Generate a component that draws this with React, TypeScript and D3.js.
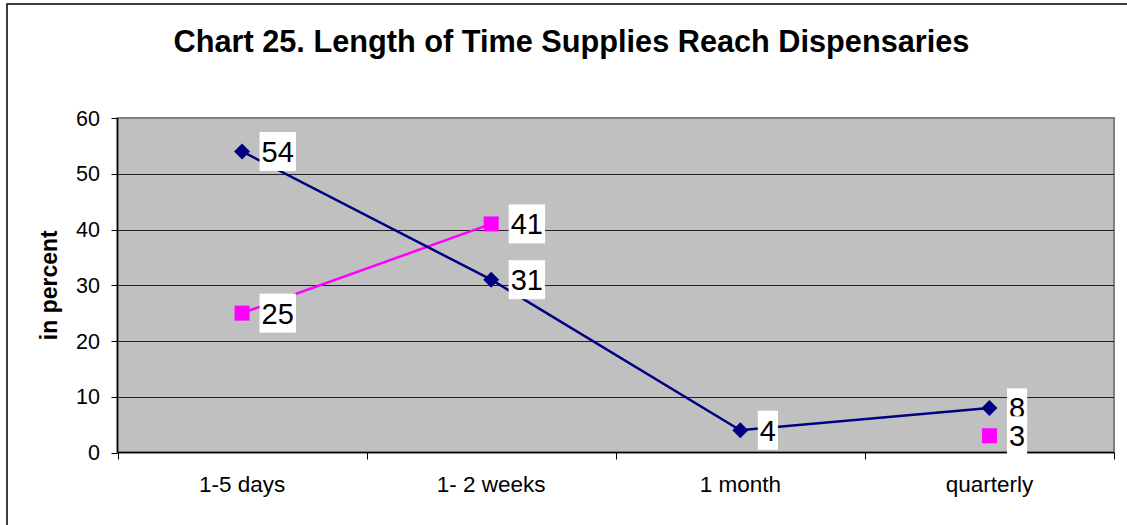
import React from "react";
import * as d3 from "d3";

const title = "Chart 25. Length of Time Supplies Reach Dispensaries";
const yAxisTitle = "in percent";
const categories = ["1-5 days", "1- 2 weeks", "1 month", "quarterly"];
const seriesA: (number | null)[] = [54, 31, 4, 8];
const seriesB: (number | null)[] = [25, 41, null, 3];
const yTicks = [0, 10, 20, 30, 40, 50, 60];

const W = 1127;
const H = 525;
const plot = { left: 117.5, right: 1114, top: 118, bottom: 452.5 };
const FONT = "'Liberation Sans', Arial, Helvetica, sans-serif";

export default function App() {
  const x = d3
    .scaleBand<string>()
    .domain(categories)
    .range([plot.left, plot.right])
    .paddingInner(0)
    .paddingOuter(0);
  const y = d3.scaleLinear().domain([0, 60]).range([plot.bottom, plot.top]);
  const cx = (c: string) => (x(c) as number) + x.bandwidth() / 2;

  const line = d3
    .line<number | null>()
    .defined((d) => d !== null)
    .x((_, i) => cx(categories[i]))
    .y((d) => y(d as number));

  const diamond = "M0,-8L8,0L0,8L-8,0Z";
  const labelW = (v: number) => String(v).length * 16.2 + 4;

  const labels: { v: number; i: number }[] = [];
  seriesA.forEach((v, i) => v !== null && labels.push({ v, i }));
  const labelsB: { v: number; i: number }[] = [];
  seriesB.forEach((v, i) => v !== null && labelsB.push({ v, i }));

  const renderLabel = (v: number, i: number, key: string) => {
    const px = cx(categories[i]);
    const py = y(v);
    const bx = px + 17.5;
    return (
      <g key={key}>
        <rect x={bx} y={py - 19.5} width={labelW(v)} height={39} fill="#ffffff" />
        <text
          x={bx + 2}
          y={py + 10.5}
          fontFamily={FONT}
          fontSize={29}
          fill="#000"
        >
          {v}
        </text>
      </g>
    );
  };

  return (
    <svg
      width={W}
      height={H}
      style={{ position: "absolute", left: 0, top: 0, background: "#fff" }}
    >
      <rect x={7} y={4} width={1140} height={540} fill="#fff" stroke="#000" strokeWidth={1.5} />
      <text
        x={571.5}
        y={52}
        textAnchor="middle"
        fontFamily={FONT}
        fontWeight="bold"
        fontSize={30.7}
        fill="#000"
      >
        {title}
      </text>

      {/* plot area */}
      <rect
        x={plot.left}
        y={plot.top}
        width={plot.right - plot.left}
        height={plot.bottom - plot.top}
        fill="#c0c0c0"
        stroke="#808080"
        strokeWidth={2}
      />
      {yTicks.filter((t) => t > 0 && t < 60).map((t) => (
        <line
          key={"g" + t}
          x1={plot.left}
          x2={plot.right}
          y1={Math.round(y(t)) + 0.5}
          y2={Math.round(y(t)) + 0.5}
          stroke="#222"
          strokeWidth={1}
        />
      ))}

      {/* axes */}
      <line x1={plot.left} x2={plot.left} y1={plot.top} y2={plot.bottom} stroke="#000" strokeWidth={1.5} />
      <line x1={plot.left} x2={plot.right} y1={plot.bottom} y2={plot.bottom} stroke="#000" strokeWidth={1.5} />
      {yTicks.map((t) => (
        <g key={"yt" + t}>
          <line
            x1={plot.left - 6}
            x2={plot.left}
            y1={Math.round(y(t)) + 0.5}
            y2={Math.round(y(t)) + 0.5}
            stroke="#000"
          />
          <text
            x={100}
            y={y(t) + 7.5}
            textAnchor="end"
            fontFamily={FONT}
            fontSize={21.5}
            fill="#000"
          >
            {t}
          </text>
        </g>
      ))}
      {[...categories.map((c) => x(c) as number), plot.right].map((px, i) => (
        <line
          key={"xt" + i}
          x1={Math.round(px) + 0.5}
          x2={Math.round(px) + 0.5}
          y1={plot.bottom}
          y2={plot.bottom + 7}
          stroke="#000"
        />
      ))}
      {categories.map((c) => (
        <text
          key={"xl" + c}
          x={cx(c)}
          y={492}
          textAnchor="middle"
          fontFamily={FONT}
          fontSize={22.5}
          fill="#000"
        >
          {c}
        </text>
      ))}
      <text
        transform={`translate(57, ${(plot.top + plot.bottom) / 2}) rotate(-90)`}
        textAnchor="middle"
        fontFamily={FONT}
        fontWeight="bold"
        fontSize={23}
        fill="#000"
      >
        {yAxisTitle}
      </text>

      {/* series */}
      <path d={line(seriesB) || ""} fill="none" stroke="#ff00ff" strokeWidth={2.5} />
      <path d={line(seriesA) || ""} fill="none" stroke="#000080" strokeWidth={2.5} />
      {seriesA.map((v, i) =>
        v === null ? null : (
          <path
            key={"da" + i}
            d={diamond}
            transform={`translate(${cx(categories[i])}, ${y(v)})`}
            fill="#000080"
          />
        )
      )}
      {seriesB.map((v, i) =>
        v === null ? null : (
          <rect
            key={"sb" + i}
            x={cx(categories[i]) - 7.5}
            y={y(v) - 7.5}
            width={15}
            height={15}
            fill="#ff00ff"
          />
        )
      )}
      {labels.map((l) => renderLabel(l.v, l.i, "la" + l.i))}
      {labelsB.map((l) => renderLabel(l.v, l.i, "lb" + l.i))}
    </svg>
  );
}
